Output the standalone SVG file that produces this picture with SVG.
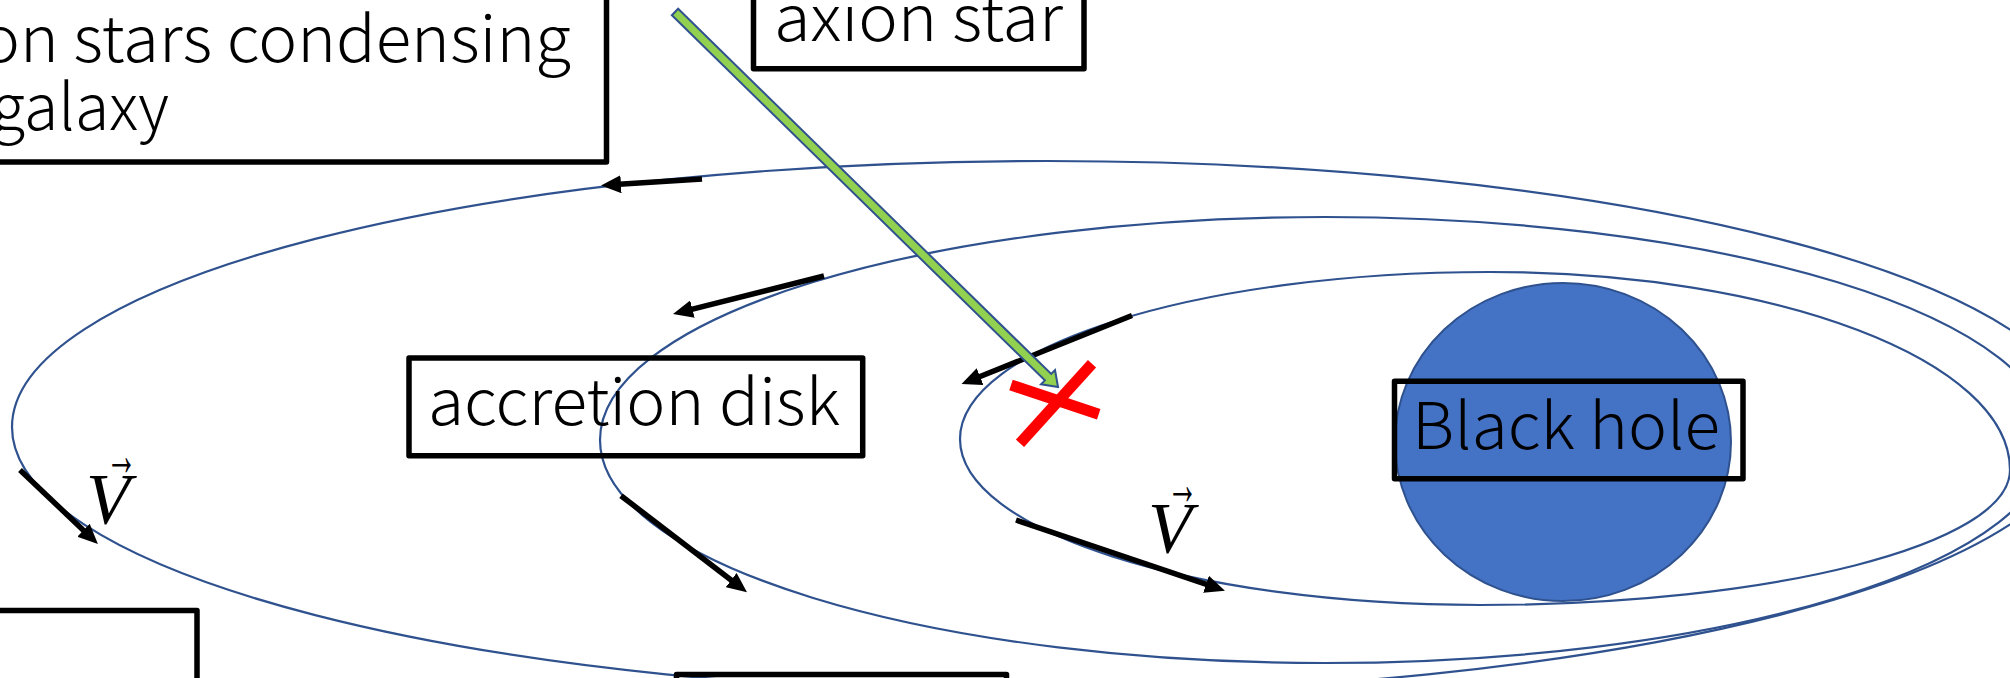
<svg xmlns="http://www.w3.org/2000/svg" width="2010" height="678" viewBox="0 0 2010 678">
<style>
.orbit{fill:none;stroke:#2F528F;stroke-width:2.2}
.box{fill:none;stroke:#000;stroke-width:5.5;stroke-linejoin:round}
.lbl{font-family:"Noto Sans CJK JP Light","Noto Sans CJK JP","Noto Sans",sans-serif;font-size:64px;font-weight:300;fill:#000}
.vel{stroke:#000;stroke-width:5.5;fill:none;marker-end:url(#ah)}
.vec{font-family:"Liberation Serif","Times New Roman",serif;font-style:italic;font-size:72px;fill:#000}
.vecarr{font-family:"Liberation Serif","Times New Roman",serif;font-size:60px;fill:#000}
.cross{stroke:#FF0000;stroke-width:11;stroke-linecap:butt}
</style>
<defs>
<marker id="ah" markerUnits="userSpaceOnUse" viewBox="0 0 20 18" markerWidth="20" markerHeight="18" refX="6" refY="9" orient="auto">
<path d="M0,0 L20,9 L0,18 z" fill="#000"/>
</marker>
</defs>
<rect width="2010" height="678" fill="#fff"/>
<g id="orbits">
<ellipse id="orbit-outer" class="orbit" cx="1047" cy="427" rx="1035" ry="266"/>
<ellipse id="orbit-middle" class="orbit" cx="1325" cy="440" rx="725" ry="223"/>
<path id="orbit-inner" class="orbit" d="M960,439 C960,346.8 1197.3,272 1490,272 C1777.2,272 2010,360.6 2010,470 C2010,544.6 1772.7,605 1480,605 C1192.8,605 960,530.7 960,439 Z"/>
</g>
<g id="black-hole">
<ellipse cx="1563" cy="442" rx="168" ry="159" fill="#4472C4" stroke="#2F528F" stroke-width="2"/>
<rect class="box" x="1394.5" y="381.3" width="348.5" height="97.5"/>
<text class="lbl" x="1412" y="449" textLength="308" lengthAdjust="spacingAndGlyphs">Black hole</text>
</g>
<g id="galaxy-note">
<rect class="box" x="-10" y="-10" width="616.5" height="172"/>
<text class="lbl" x="-19" y="61.7" textLength="590" lengthAdjust="spacingAndGlyphs">on stars condensing</text>
<text class="lbl" x="-9" y="130" textLength="178" lengthAdjust="spacingAndGlyphs">galaxy</text>
</g>
<g id="axion-star-label">
<rect class="box" x="753.5" y="-10" width="330.5" height="78.7"/>
<text class="lbl" x="774" y="40.7" textLength="289" lengthAdjust="spacingAndGlyphs">axion star</text>
</g>
<g id="accretion-disk-label">
<rect class="box" x="409" y="358" width="453.7" height="97.7"/>
<text class="lbl" x="428" y="425" textLength="412" lengthAdjust="spacingAndGlyphs">accretion disk</text>
</g>
<g id="box-bottom-left">
<rect class="box" x="-10" y="610.5" width="207" height="100"/>
</g>
<g id="box-bottom-middle">
<rect class="box" x="676.5" y="674.5" width="330" height="50"/>
</g>
<g id="connectors">
<line class="vel" x1="702" y1="179" x2="615" y2="184.6"/>
<line class="vel" x1="824" y1="276" x2="686.6" y2="310.6"/>
<line class="vel" x1="1132" y1="315.5" x2="974.5" y2="378.8"/>
<line class="vel" x1="20" y1="470" x2="87.8" y2="534.4"/>
<line class="vel" x1="621" y1="495.7" x2="735.9" y2="583.8"/>
<line class="vel" x1="1016" y1="520" x2="1211.7" y2="586.2"/>
<polygon id="axion-path" transform="translate(675,12) rotate(44.39)" points="0,-4.5 522,-4.5 522,-10 536,0 522,10 522,4.5 0,4.5" fill="#92D050" stroke="#2F528F" stroke-width="2" stroke-linejoin="miter"/>
</g>
<g id="collision-mark">
<line class="cross" x1="1011" y1="385" x2="1098.7" y2="414.3"/>
<line class="cross" x1="1092" y1="363.7" x2="1020" y2="443.3"/>
</g>
<g id="velocity-label-1">
<text class="vec" x="86" y="523">V</text>
<text class="vecarr" x="106" y="474.5" textLength="31" lengthAdjust="spacingAndGlyphs">→</text>
</g>
<g id="velocity-label-2">
<text class="vec" x="1148" y="552">V</text>
<text class="vecarr" x="1167" y="504" textLength="31" lengthAdjust="spacingAndGlyphs">→</text>
</g>
</svg>
